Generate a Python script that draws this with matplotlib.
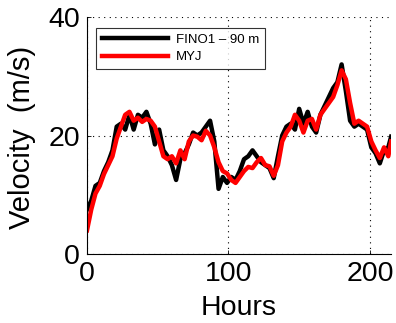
import numpy as np
import matplotlib.pyplot as plt

plt.rcParams['font.family'] = ['Liberation Sans', 'DejaVu Sans']

# time axis (hours) and wind speed series
hours = [0, 3, 6, 9, 12, 15, 18, 21, 24, 27, 30, 33, 36, 39, 42, 45, 48, 51,
         54, 57, 60, 63, 66, 69, 72, 75, 78, 81, 84, 87, 90, 93, 96, 99, 102,
         105, 108, 111, 114, 117, 120, 123, 126, 129, 132, 135, 138, 141, 144,
         147, 150, 153, 156, 159, 162, 165, 168, 171, 174, 177, 180, 183, 186,
         189, 192, 195, 198, 201, 204, 207, 210, 213, 215]

fino1 = [7.5, 9.0, 11.5, 12.0, 14.0, 15.5, 17.5, 21.5, 22.0, 21.0, 23.5, 21.0,
         23.5, 23.0, 24.0, 22.0, 18.5, 21.0, 17.5, 16.5, 15.0, 12.5, 16.0, 17.0,
         18.5, 20.5, 20.0, 20.5, 21.5, 22.5, 19.0, 11.0, 13.0, 12.0, 13.0, 12.5,
         14.0, 16.0, 16.5, 17.5, 16.5, 15.5, 15.0, 14.5, 12.8, 16.5, 20.0, 21.5,
         22.0, 21.0, 24.5, 22.0, 24.0, 21.5, 20.5, 23.5, 25.0, 26.5, 28.0, 29.0,
         32.0, 27.5, 22.5, 21.5, 22.0, 21.5, 21.0, 18.0, 17.0, 15.3, 17.5, 18.0,
         19.8]

myj = [4.0, 7.5, 10.2, 11.5, 13.5, 15.0, 16.5, 19.5, 21.5, 23.5, 24.0, 22.5,
       23.0, 22.3, 22.8, 22.5, 21.5, 19.0, 16.5, 16.0, 16.5, 15.3, 17.5, 16.0,
       19.0, 20.0, 19.8, 19.2, 20.8, 20.0, 18.0, 15.5, 14.0, 13.6, 12.5, 12.0,
       13.0, 14.0, 14.7, 14.5, 15.5, 16.2, 15.0, 14.8, 13.2, 15.0, 19.0, 20.5,
       21.5, 23.5, 22.5, 20.5, 22.5, 22.8, 21.0, 23.5, 24.5, 25.5, 26.5, 28.5,
       31.0, 29.5, 25.5, 22.0, 22.5, 22.0, 21.5, 19.0, 17.5, 16.2, 18.0, 16.5,
       19.0]

fig = plt.figure(figsize=(3.96, 3.23), dpi=100)
ax = fig.add_axes([0.2197, 0.2136, 0.768, 0.7337])

ax.plot(hours, fino1, color='black', lw=3.2, label='FINO1 \u2013 90 m')
ax.plot(hours, myj, color='red', lw=3.2, label='MYJ')

ax.set_xlim(0, 215)
ax.set_ylim(0, 40)
ax.set_xticks([0, 100, 200])
ax.set_yticks([0, 20, 40])
ax.tick_params(direction='in', length=3, width=0.6, labelsize=20.5)
ax.tick_params(axis='x', pad=5)
ax.tick_params(axis='y', pad=5)
ax.grid(True, color='black', linestyle=(0, (1, 4)), linewidth=0.8)

ax.spines['top'].set_visible(False)
ax.spines['right'].set_visible(False)
ax.spines['left'].set_linewidth(0.8)
ax.spines['bottom'].set_linewidth(0.8)

ax.set_xlabel('Hours', fontsize=20.5)
ax.set_ylabel('Velocity  (m/s)', fontsize=21)
ax.xaxis.set_label_coords(0.5, -0.175)
ax.yaxis.set_label_coords(-0.168, 0.49)

leg = ax.legend(loc='upper left', bbox_to_anchor=(0.03, 0.955), fontsize=9.5,
                frameon=True, fancybox=False, edgecolor='black',
                handlelength=5.0, handletextpad=0.6, borderpad=0.45,
                labelspacing=0.4, borderaxespad=0)
leg.get_frame().set_linewidth(0.8)

fig.savefig('out.png', dpi=100)
